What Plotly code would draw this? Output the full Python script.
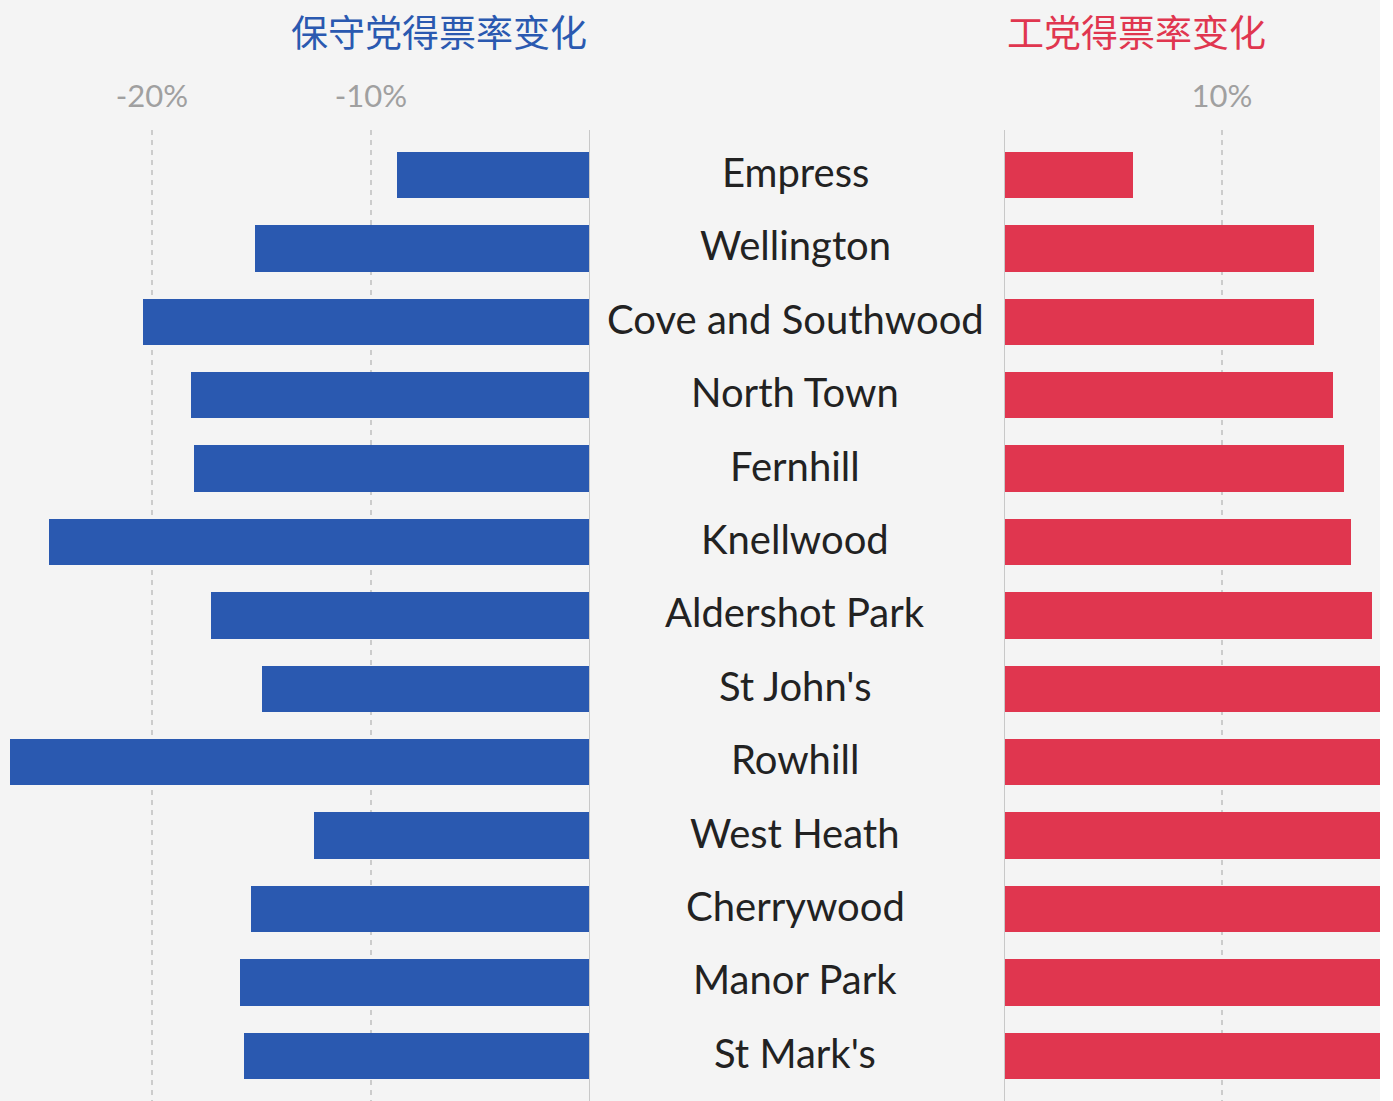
import plotly.graph_objects as go

wards = ["Empress", "Wellington", "Cove and Southwood", "North Town", "Fernhill",
         "Knellwood", "Aldershot Park", "St John's", "Rowhill", "West Heath",
         "Cherrywood", "Manor Park", "St Mark's"]
con_change = [-8.8, -15.3, -20.4, -18.2, -18.1, -24.7, -17.3, -15.0, -26.5, -12.6, -15.5, -16.0, -15.8]
lab_change = [5.9, 14.2, 14.2, 15.1, 15.6, 15.9, 16.9, 18.0, 19.5, 18.5, 18.0, 19.0, 18.5]
left_ticks = [-20, -10]
left_ticklabels = ["-20%", "-10%"]
right_ticks = [10]
right_ticklabels = ["10%"]

BLUE = "#2a59b0"
RED = "#e0364f"
BG = "#f4f4f4"
W, H = 1380, 1101
idx = list(range(len(wards)))

fig = go.Figure()
fig.add_trace(go.Bar(x=con_change, y=idx, orientation="h", marker=dict(color=BLUE, line=dict(width=0)),
                     width=0.63, xaxis="x", yaxis="y", hoverinfo="x+text", text=wards, textposition="none"))
fig.add_trace(go.Bar(x=lab_change, y=idx, orientation="h", marker=dict(color=RED, line=dict(width=0)),
                     width=0.63, xaxis="x2", yaxis="y", hoverinfo="x+text", text=wards, textposition="none"))

for w, i in zip(wards, idx):
    fig.add_annotation(x=795 / W, xref="paper", y=i, yref="y", text=w, showarrow=False, yshift=3,
                       font=dict(size=40, color="#222222", family="Lato, 'Noto Sans', sans-serif"),
                       xanchor="center", yanchor="middle")

fig.add_annotation(x=439 / W, xref="paper", y=31, yref="paper", text="保守党得票率变化", showarrow=False,
                   font=dict(size=37, color=BLUE, family="'Noto Sans CJK SC'"), xanchor="center", yanchor="middle")
fig.add_annotation(x=1136 / W, xref="paper", y=31, yref="paper", text="工党得票率变化", showarrow=False,
                   font=dict(size=37, color=RED, family="'Noto Sans CJK SC'"), xanchor="center", yanchor="middle")

axis_common = dict(showgrid=True, gridcolor="#cccccc", griddash="5px,5px", gridwidth=2, zeroline=False,
                   side="top", ticks="", ticklabelstandoff=16,
                   tickfont=dict(size=31, color="#a0a0a0", family="Lato, sans-serif"),
                   fixedrange=True)
fig.update_layout(
    width=W, height=H,
    margin=dict(l=0, r=0, t=130, b=0),
    paper_bgcolor=BG, plot_bgcolor=BG,
    showlegend=False, bargap=0,
    xaxis=dict(domain=[0, 590 / W], range=[-590 / 21.9, 0], tickvals=left_ticks, ticktext=left_ticklabels,
               anchor="y", **axis_common),
    xaxis2=dict(domain=[1004 / W, 1], range=[0, 376 / 21.8], tickvals=right_ticks, ticktext=right_ticklabels,
                anchor="y", **axis_common),
    yaxis=dict(range=[12.616, -0.613], showticklabels=False, showgrid=False, zeroline=False, fixedrange=True),
    shapes=[
        dict(type="line", xref="x", yref="paper", x0=0, x1=0, y0=0, y1=1, line=dict(color="#c8c8c8", width=2)),
        dict(type="line", xref="x2", yref="paper", x0=0, x1=0, y0=0, y1=1, line=dict(color="#c8c8c8", width=2)),
    ],
)
# annotation y in pixels -> paper coords
for a in fig.layout.annotations:
    if a.yref == "paper":
        a.y = 1 + (130 - a.y) / (H - 130)

fig.write_html("out.html", config={"displayModeBar": False},
               post_script="document.body.style.margin='0';")
